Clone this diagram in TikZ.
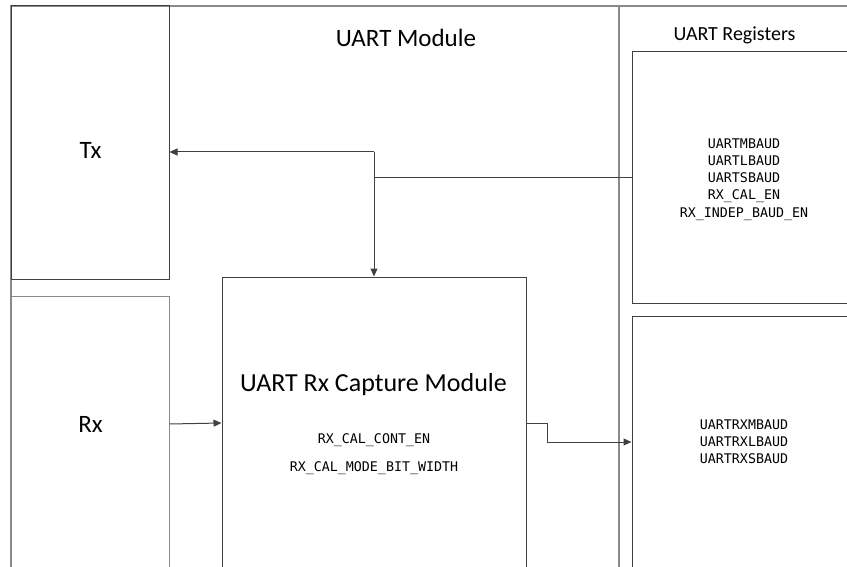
\documentclass[tikz,border=0pt]{standalone}
\usepackage{fontspec}
\setmainfont{Carlito}
\newfontfamily\regfont{DejaVu Sans Mono}
\usetikzlibrary{arrows.meta,positioning}

\definecolor{linedark}{HTML}{404040}
\definecolor{framegray}{HTML}{8A8A8A}

\tikzset{
  frame/.style={draw=framegray,line width=1.6pt},
  blockbox/.style={draw=linedark,line width=1pt,rectangle,inner sep=0pt},
  wire/.style={draw=linedark,line width=1pt},
  conn/.style={wire,-{Triangle[length=8pt,width=7pt]}},
  bigtext/.style={anchor=base,inner sep=0pt,font=\fontsize{25}{30}\selectfont},
  regtext/.style={anchor=base,inner sep=0pt,font=\regfont\fontsize{13.3}{17}\selectfont}
}

\begin{document}
\begin{tikzpicture}[x=1pt,y=-1pt]
  \useasboundingbox (0,0) rectangle (847,567);
  \clip (0,0) rectangle (847,567);
  %
  % module frames
  \draw[frame] (11,620) |- (860,6);
  \draw[frame] (619,6) -- (619,620);
  \node[bigtext] (modtitle) at (406,47) {UART Module};
  \node[bigtext,font=\fontsize{20}{24}\selectfont] (regtitle) at (734.5,41) {UART Registers};
  %
  % Tx / Rx blocks
  \node[blockbox,minimum width=158pt,minimum height=273pt] (tx) at (90,142.5) {};
  \node[blockbox,draw=framegray,minimum width=158pt,minimum height=324pt] (rx) at (90,458) {};
  \node[bigtext] (txlabel) at (90.5,158.3) {Tx};
  \node[bigtext] (rxlabel) at (90.5,432.7) {Rx};
  %
  % capture module
  \node[blockbox,minimum width=304pt,minimum height=343pt] (cap) at (374,448.5) {};
  \node[bigtext,font=\fontsize{26}{31}\selectfont] (captitle) at (373.5,391.7) {UART Rx Capture Module};
  \node[regtext] (capcont) at (374,443.3) {RX\_CAL\_CONT\_EN};
  \node[regtext] (capmode) at (374,471.7) {RX\_CAL\_MODE\_BIT\_WIDTH};
  %
  % register blocks
  \node[blockbox,minimum width=224pt,minimum height=251pt] (regA) at (744,177.5) {};
  \node[blockbox,minimum width=224pt,minimum height=252pt] (regB) at (744,442) {};
  \foreach \reg [count=\i from 0] in {UARTMBAUD,UARTLBAUD,UARTSBAUD,RX\_CAL\_EN,RX\_INDEP\_BAUD\_EN}
           {\node[regtext] (regA-\i) at (744,148.3+17.2*\i) {\reg};}
  \foreach \reg [count=\i from 0] in {UARTRXMBAUD,UARTRXLBAUD,UARTRXSBAUD}
           {\node[regtext] (regB-\i) at (744,429.3+17*\i) {\reg};}
  %
  % connections
  \coordinate (fork) at (cap.north |- 0,152);
  \coordinate (tap) at (cap.north |- 0,178);
  \coordinate (capin) at (cap.west |- 0,423);
  \coordinate (capout) at (cap.east |- 0,423);
  \draw[wire] (regA.west |- tap) -- (tap) -- (fork);
  \draw[conn] (fork) -- (tx.east |- fork);
  \draw[conn] (fork) -- (cap.north);
  \draw[conn] (rx.east |- 0,424) -- (capin);
  \draw[conn] (capout) -- ++(21,0) |- (regB.west);
\end{tikzpicture}
\end{document}
